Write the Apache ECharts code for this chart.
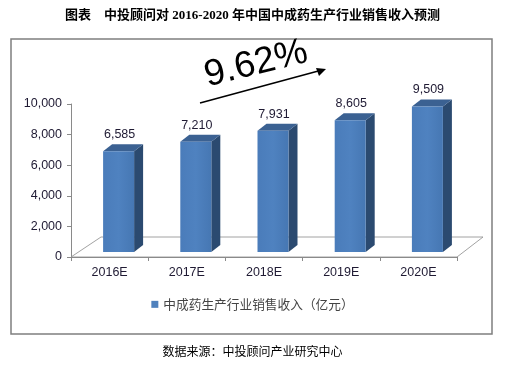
<!DOCTYPE html>
<html><head><meta charset="utf-8">
<script src="https://cdn.jsdelivr.net/npm/echarts@6/dist/echarts.min.js"></script>
<style>html,body{margin:0;padding:0;background:#fff}#c{width:505px;height:368px}</style>
</head><body><div id="c"></div>
<script>
const categories = ['2016E', '2017E', '2018E', '2019E', '2020E'];
const revenue = [6585, 7210, 7931, 8605, 9509];
const yTicks = [0, 2000, 4000, 6000, 8000, 10000];
const seriesName = '中成药生产行业销售收入（亿元）';
const growthLabel = '9.62%';
const titleText = '图表　中投顾问对 2016-2020 年中国中成药生产行业销售收入预测';
const sourceText = '数据来源：中投顾问产业研究中心';

const chart = echarts.init(document.getElementById('c'), null, {renderer: 'canvas'});
const BW = 31, SHX = 9, SHY = -5, DX = 9, DY = -7;
const FLX = 30, FLY = -20;

function renderBar(params, api) {
  const top = api.coord([api.value(0), api.value(1)]);
  const base = api.coord([api.value(0), 0]);
  const cx = top[0] + SHX;
  const l = cx - BW / 2, r = cx + BW / 2;
  const t = top[1] + SHY, b = base[1] + SHY;
  return {
    type: 'group',
    children: [
      {type: 'polygon', shape: {points: [[r, t], [r + DX, t + DY], [r + DX, b + DY], [r, b]]},
        style: {fill: '#2b4a70'}},
      {type: 'polygon', shape: {points: [[l, t], [l + DX, t + DY], [r + DX, t + DY], [r, t]]},
        style: {fill: '#3b6192'}},
      {type: 'rect', shape: {x: l, y: t, width: BW, height: b - t},
        style: {fill: new echarts.graphic.LinearGradient(0, 0, 1, 0, [
          {offset: 0, color: '#4a7cba'}, {offset: 0.5, color: '#4f82c0'}, {offset: 1, color: '#4677b3'}])}},
      {type: 'text', style: {x: cx + 1, y: t + DY - 3, text: api.value(1).toLocaleString('en-US'),
        textAlign: 'center', textVerticalAlign: 'bottom', fill: '#1f1a33',
        font: '12.5px Arial, "Liberation Sans", sans-serif'}}
    ]
  };
}

function renderFloor(params, api) {
  const cs = params.coordSys;
  const x0 = cs.x, x1 = cs.x + cs.width, y0 = cs.y + cs.height;
  return {
    type: 'polygon',
    shape: {points: [[x0, y0], [x0 + FLX, y0 + FLY], [x1 + FLX - 4, y0 + FLY], [x1, y0]]},
    style: {fill: '#fff', stroke: '#8a8a8a', lineWidth: 0.8},
    silent: true
  };
}

const option = {
  animation: false,
  backgroundColor: '#fff',
  title: {
    text: titleText, left: 'center', top: 4,
    textStyle: {fontSize: 13, fontWeight: 'bold', color: '#000',
      fontFamily: '"Liberation Serif", "Noto Sans CJK SC", serif'}
  },
  legend: {
    data: [{name: seriesName, icon: 'rect'}],
    top: 293, left: 'center', itemWidth: 7, itemHeight: 7, itemGap: 4,
    textStyle: {fontSize: 12.7, color: '#444', fontFamily: '"Noto Sans CJK SC", sans-serif'}
  },
  grid: {left: 71, right: 48, top: 104, bottom: 111},
  xAxis: {
    type: 'category', data: categories, boundaryGap: true,
    axisLine: {show: true, lineStyle: {color: '#8a8a8a', width: 1}},
    axisTick: {show: true, length: 4, lineStyle: {color: '#8a8a8a'}},
    axisLabel: {margin: 9, fontSize: 12.5, color: '#1f1a33', fontFamily: 'Arial, "Liberation Sans", sans-serif'},
    z: 1
  },
  yAxis: {
    type: 'value', min: yTicks[0], max: yTicks[yTicks.length - 1], interval: yTicks[1] - yTicks[0],
    axisLine: {show: true, lineStyle: {color: '#8a8a8a', width: 1}},
    axisTick: {show: true, length: 4, lineStyle: {color: '#8a8a8a'}},
    splitLine: {show: false},
    axisLabel: {margin: 9, fontSize: 12.5, color: '#1f1a33', fontFamily: 'Arial, "Liberation Sans", sans-serif',
      formatter: v => v.toLocaleString('en-US')}
  },
  series: [
    {type: 'custom', name: '_floor', data: [[0, 0]], renderItem: renderFloor, z: 1, silent: true,
      encode: {x: 0, y: 1}},
    {type: 'custom', name: seriesName, data: categories.map((c, i) => [i, revenue[i]]),
      renderItem: renderBar, itemStyle: {color: '#4f81bd'}, z: 3, encode: {x: 0, y: 1}}
  ],
  graphic: [
    {type: 'rect', shape: {x: 11, y: 39, width: 481, height: 295},
      style: {fill: 'none', stroke: '#7f7f7f', lineWidth: 1.5}, z: 0},
    {type: 'text', x: 256, y: 64, rotation: 0.24,
      style: {text: growthLabel, textAlign: 'center', textVerticalAlign: 'middle', fill: '#000',
        font: '37px Arial, "Liberation Sans", sans-serif'}, z: 10},
    {type: 'line', shape: {x1: 200, y1: 103, x2: 322, y2: 70},
      style: {stroke: '#000', lineWidth: 1.6}, z: 10},
    {type: 'polygon', shape: {points: [[326, 69], [316, 68], [319, 76]]},
      style: {fill: '#000'}, z: 10},
    {type: 'text', left: 'center', top: 345,
      style: {text: sourceText, fill: '#000', font: '12px "Noto Sans CJK SC", sans-serif'}, z: 10}
  ]
};
chart.setOption(option);
</script>
</body></html>
